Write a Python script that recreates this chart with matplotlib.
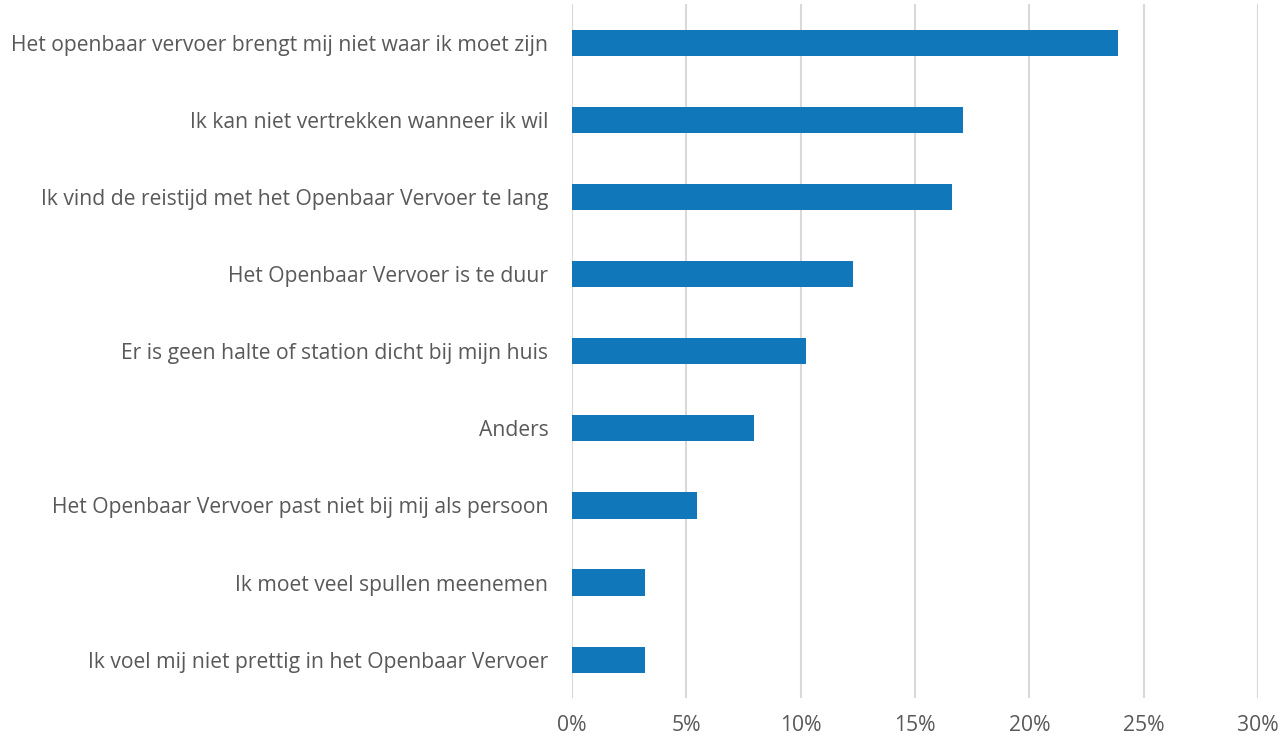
import matplotlib.pyplot as plt
from matplotlib.ticker import PercentFormatter

plt.rcParams['font.family'] = ['Open Sans', 'DejaVu Sans']

categories = [
    "Het openbaar vervoer brengt mij niet waar ik moet zijn",
    "Ik kan niet vertrekken wanneer ik wil",
    "Ik vind de reistijd met het Openbaar Vervoer te lang",
    "Het Openbaar Vervoer is te duur",
    "Er is geen halte of station dicht bij mijn huis",
    "Anders",
    "Het Openbaar Vervoer past niet bij mij als persoon",
    "Ik moet veel spullen meenemen",
    "Ik voel mij niet prettig in het Openbaar Vervoer",
]
values = [23.9, 17.1, 16.6, 12.3, 10.25, 7.95, 5.45, 3.18, 3.18]
xticks = [0, 5, 10, 15, 20, 25, 30]

fig = plt.figure(figsize=(12.81, 7.38), dpi=100)
ax = fig.add_axes([0.4465, 0.054, 0.5355, 0.94])

ypos = list(range(len(categories)))
ax.barh(ypos, values, height=0.34, color='#1078BA', zorder=3)
ax.set_yticks(ypos)
ax.set_yticklabels(categories)
ax.set_ylim(len(categories) - 0.5, -0.5)

ax.set_xlim(0, 30)
ax.set_xticks(xticks)
ax.xaxis.set_major_formatter(PercentFormatter(decimals=0))
ax.grid(axis='x', color='#D9D9D9', linewidth=1.5, zorder=0)

for s in ax.spines.values():
    s.set_visible(False)
ax.tick_params(axis='both', length=0, labelsize=15.2, colors='#595959')
ax.tick_params(axis='y', pad=17)
ax.tick_params(axis='x', pad=12)

fig.savefig('out.png', dpi=100)
